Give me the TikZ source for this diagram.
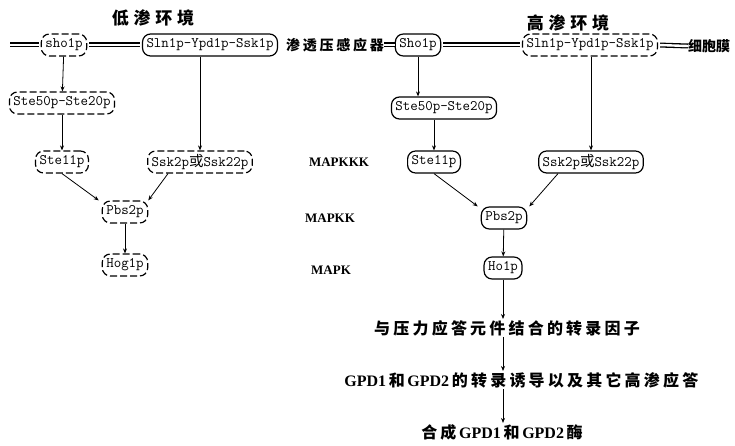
\documentclass[tikz,border=0pt]{standalone}
\usepackage{fontspec}
\usepackage{tikz}
\usetikzlibrary{arrows.meta}
\newfontfamily\cjk[LetterSpace=20]{Noto Sans CJK SC}
\newfontfamily\cjkwide[LetterSpace=28]{Noto Sans CJK SC}
\newfontfamily\cjkplain{Noto Sans CJK SC}
\newfontfamily\latinbold{Liberation Serif}
\newcommand{\gpd}[1]{{\latinbold\bfseries\,GPD#1\,}}

\begin{document}
\begin{tikzpicture}[x=1pt, y=-1pt,
    prot/.style={draw, line width=1.2pt, rounded corners=8pt, inner xsep=4pt, inner ysep=3pt,
      minimum height=22pt, font=\ttfamily\fontsize{14.5}{14.5}\selectfont},
    protdash/.style={prot, dash pattern=on 7pt off 3pt},
    membrane/.style={double, double distance=2.4pt, line width=1.3pt, shorten <=2pt, shorten >=2pt},
    link/.style={line width=0.8pt, -{Stealth[length=5pt, width=4pt]}},
    level/.style={font=\latinbold\fontsize{13}{13}\selectfont\bfseries},
    note/.style={inner sep=1pt, font=\cjk\bfseries\fontsize{16}{16}\selectfont}]
    \useasboundingbox (0,0) rectangle (735,446);

    % the two environments
    \node[inner sep=0pt, font=\cjkwide\bfseries\fontsize{17}{17}\selectfont] (lowtitle) at (153,18) {低渗环境};
    \node[inner sep=0pt, font=\cjkwide\bfseries\fontsize{17}{17}\selectfont] (hightitle) at (568,23) {高渗环境};

    % membrane row
    \coordinate (mstart) at (8,45);
    \node[protdash] (sho1L) at (64,45) {sho1p};
    \node[prot] (sln1L) at (210,45) {Sln1p-Ypd1p-Ssk1p};
    \node[inner sep=0pt, font=\cjk\bfseries\fontsize{14}{14}\selectfont] (sensor) at (335,45) {渗透压感应器};
    \node[prot] (sho1R) at (418,45) {Sho1p};
    \node[protdash] (sln1R) at (590,45) {Sln1p-Ypd1p-Ssk1p};
    \node[inner sep=0pt, anchor=west, font=\cjkplain\bfseries\fontsize{14}{14}\selectfont] (cell) at (688,46) {细胞膜};

    \draw[membrane] (mstart) -- (sho1L.west);
    \draw[membrane] (sho1L.east) -- (sln1L.west);
    \draw[membrane, shorten <=0pt, shorten >=0pt] (sensor.east) -- (sho1R.west);
    \draw[membrane] (sho1R.east) -- (sln1R.west);
    \draw[membrane, shorten >=0pt] (sln1R.east) -- (cell.west);

    % low osmolarity branch
    \node[protdash] (ste50L) at (62,103) {Ste50p-Ste20p};
    \node[protdash] (ste11L) at (62,162) {Ste11p};
    \node[protdash] (ssk2L) at (200,162) {Ssk2p{\cjk 或}Ssk22p};
    \node[protdash] (pbs2L) at (125,212) {Pbs2p};
    \node[protdash] (hog1L) at (125,265) {Hog1p};

    \draw[link] (sho1L) -- (ste50L);
    \draw[link] (ste50L) -- (ste11L);
    \draw[link] (sln1L.south -| ssk2L) -- (ssk2L.north);
    \draw[link] (ste11L.south) -- ([xshift=-3pt]pbs2L.north west);
    \draw[link] ([xshift=-32pt]ssk2L.south) -- (pbs2L.north east);
    \draw[link] (pbs2L) -- (hog1L);

    % kinase levels
    \node[level] (mapkkk) at (339,162) {MAPKKK};
    \node[level] (mapkk) at (330,218) {MAPKK};
    \node[level] (mapk) at (331,270) {MAPK};

    % high osmolarity branch
    \node[prot] (ste50R) at (444,108) {Ste50p-Ste20p};
    \node[prot] (ste11R) at (434,162) {Ste11p};
    \node[prot] (ssk2R) at (591,162) {Ssk2p{\cjk 或}Ssk22p};
    \node[prot] (pbs2R) at (504,218) {Pbs2p};
    \node[prot] (hog1R) at (503,268) {Ho1p};

    \draw[link] (sho1R.south) -- (sho1R.south |- ste50R.north);
    \draw[link] (ste50R.south -| ste11R) -- (ste11R.north);
    \draw[link] (sln1R.south -| ssk2R) -- (ssk2R.north);
    \draw[link] (ste11R.south) -- ([xshift=-3pt]pbs2R.north west);
    \draw[link] ([xshift=-33pt]ssk2R.south) -- ([xshift=2pt]pbs2R.north east);
    \draw[link] (pbs2R) -- (hog1R);

    % responses
    \node[note] (factor) at (507,328) {与压力应答元件结合的转录因子};
    \node[note] (induce) at (520,380) {\gpd{1}和\gpd{2}的转录诱导以及其它高渗应答};
    \node[note] (enzyme) at (502,432) {合成\gpd{1}和\gpd{2}酶};

    \draw[link] (hog1R.south) -- (hog1R.south |- factor.north);
    \draw[link] (factor.south -| hog1R) -- (induce.north -| hog1R);
    \draw[link] (induce.south -| hog1R) -- (enzyme.north -| hog1R);
\end{tikzpicture}
\end{document}
